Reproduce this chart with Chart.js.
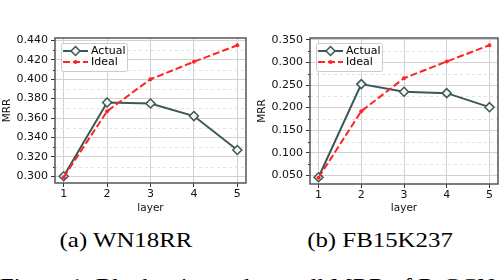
<!DOCTYPE html>
<html lang="en">
<head>
<meta charset="UTF-8">
<title>MRR per layer</title>
<script src="https://cdn.jsdelivr.net/npm/chart.js"></script>
<style>
  body { margin: 0; background: #fff; }
  #wrap { position: relative; width: 504px; height: 280px; overflow: hidden; font-family: "Liberation Serif", serif; }
  .panel { position: absolute; top: 0; }
  .cap { position: absolute; top: 229px; font-size: 22px; line-height: 22px; white-space: nowrap; transform: translateX(-50%) scaleX(1.13); }
  #fig { position: absolute; left: 0; top: 275px; font-size: 22px; line-height: 22px; white-space: nowrap; transform-origin: 0 0; transform: scaleX(1.12); }
</style>
</head>
<body>
<div id="wrap">
    <canvas class="panel" id="wn" width="252" height="215" style="left:0"></canvas>
    <canvas class="panel" id="fb" width="252" height="215" style="left:252px"></canvas>
    <div class="cap" style="left:126px">(a) WN18RR</div>
    <div class="cap" style="left:380px">(b) FB15K237</div>
    <div id="fig">Figure 1: Block-wise and overall MRR of R-GCN.</div>
</div>
<script>
const layers = [1, 2, 3, 4, 5];
const seriesNames = ['Actual', 'Ideal'];

const wnActual = [0.300, 0.376, 0.375, 0.362, 0.327];
const wnIdeal  = [0.299, 0.367, 0.400, 0.418, 0.435];
const wnTicks  = [0.30, 0.32, 0.34, 0.36, 0.38, 0.40, 0.42, 0.44];
const wnMinor  = [0.31, 0.33, 0.35, 0.37, 0.39, 0.41, 0.43];

const fbActual = [0.046, 0.252, 0.235, 0.232, 0.201];
const fbIdeal  = [0.045, 0.192, 0.265, 0.302, 0.338];
const fbTicks  = [0.05, 0.10, 0.15, 0.20, 0.25, 0.30, 0.35];
const fbMinor  = [0.075, 0.125, 0.175, 0.225, 0.275, 0.325];

const tickFont = { family: 'DejaVu Sans', size: 11 };
const titleFont = { family: 'DejaVu Sans', size: 10.5 };

// dashed minor grid, minor ticks, frame and the legend box
const extras = {
    id: 'extras',
    beforeDatasetsDraw(chart, args, opts) {
        const ctx = chart.ctx, a = chart.chartArea, y = chart.scales.y;
        ctx.save();
        ctx.lineWidth = 1;
        opts.minor.forEach(v => {
            const py = Math.round(y.getPixelForValue(v)) + 0.5;
            ctx.strokeStyle = '#e2e2e2';
            ctx.setLineDash([3, 3]);
            ctx.beginPath(); ctx.moveTo(a.left, py); ctx.lineTo(a.right, py); ctx.stroke();
            ctx.setLineDash([]);
            ctx.strokeStyle = '#333';
            ctx.beginPath(); ctx.moveTo(a.left - 2, py); ctx.lineTo(a.left, py); ctx.stroke();
        });
        ctx.restore();
    },
    afterDatasetsDraw(chart) {
        const ctx = chart.ctx, a = chart.chartArea;
        ctx.save();
        ctx.strokeStyle = '#555';
        ctx.lineWidth = 1.5;
        ctx.strokeRect(a.left, a.top, a.right - a.left, a.bottom - a.top);

        const bx = a.left + 6, by = a.top + 5, bw = 66, bh = 28;
        ctx.fillStyle = 'rgba(255,255,255,0.85)';
        ctx.strokeStyle = '#cccccc';
        ctx.lineWidth = 1;
        ctx.beginPath();
        ctx.roundRect(bx + 0.5, by + 0.5, bw, bh, 2);
        ctx.fill(); ctx.stroke();

        const sets = chart.data.datasets.slice().sort((p, q) => p.legendIndex - q.legendIndex);
        sets.forEach((d, i) => {
            const ly = by + 8 + i * 11;
            ctx.strokeStyle = d.borderColor;
            ctx.lineWidth = d.borderWidth;
            ctx.setLineDash(d.borderDash || []);
            ctx.beginPath(); ctx.moveTo(bx + 2, ly); ctx.lineTo(bx + 27, ly); ctx.stroke();
            ctx.setLineDash([]);
            ctx.fillStyle = d.pointBackgroundColor;
            ctx.strokeStyle = d.pointBorderColor;
            ctx.lineWidth = d.pointBorderWidth;
            Chart.helpers.drawPoint(ctx, { pointStyle: d.pointStyle, radius: d.pointRadius, borderWidth: d.pointBorderWidth }, bx + 14.5, ly);
            ctx.fillStyle = '#000';
            ctx.font = '11px "DejaVu Sans"';
            ctx.textBaseline = 'middle';
            ctx.fillText(d.label, bx + 30, ly + 0.5);
        });
        ctx.restore();
    }
};

function points(vals) {
    return layers.map((x, i) => ({ x: x, y: vals[i] }));
}

function makeChart(id, actual, ideal, yTicks, yMinor, yMin, yMax, yWidth, padRight, xHeight, titlePad) {
    return new Chart(document.getElementById(id), {
        type: 'line',
        data: {
            datasets: [{
                label: seriesNames[0],
                legendIndex: 0,
                order: 1,
                data: points(actual),
                borderColor: '#3b5757',
                borderWidth: 2,
                pointStyle: 'rectRot',
                pointRadius: 4.5,
                pointBorderWidth: 1.5,
                pointBorderColor: '#3b5757',
                pointBackgroundColor: '#f4f4f4',
                tension: 0
            }, {
                label: seriesNames[1],
                legendIndex: 1,
                order: 0,
                data: points(ideal),
                borderColor: '#ff2424',
                borderWidth: 2,
                borderDash: [7, 3],
                pointStyle: 'circle',
                pointRadius: 2,
                pointBorderWidth: 0,
                pointBorderColor: '#ff2424',
                pointBackgroundColor: '#ff2424',
                tension: 0
            }]
        },
        options: {
            responsive: false,
            animation: false,
            layout: { padding: { top: 38, right: padRight, left: 0, bottom: 0 } },
            plugins: {
                legend: { display: false },
                tooltip: { enabled: false },
                extras: { minor: yMinor }
            },
            scales: {
                x: {
                    type: 'linear',
                    min: 0.8,
                    max: 5.2,
                    afterBuildTicks: s => { s.ticks = layers.map(v => ({ value: v })); },
                    afterFit: s => { s.height = xHeight; },
                    ticks: { font: tickFont, color: '#111', padding: 1, callback: v => String(v) },
                    grid: { color: '#d2d2d2', lineWidth: 1, tickLength: 4, tickColor: '#333', tickWidth: 1 },
                    border: { display: false },
                    title: { display: true, text: 'layer', font: titleFont, color: '#111', padding: 0 }
                },
                y: {
                    min: yMin,
                    max: yMax,
                    afterBuildTicks: s => { s.ticks = yTicks.map(v => ({ value: v })); },
                    afterFit: s => { s.width = yWidth; },
                    ticks: { font: tickFont, color: '#111', padding: 3, callback: v => v.toFixed(3) },
                    grid: { color: '#d2d2d2', lineWidth: 1, tickLength: 4, tickColor: '#333', tickWidth: 1 },
                    border: { display: false },
                    title: { display: true, text: 'MRR', font: titleFont, color: '#111', padding: titlePad }
                }
            }
        },
        plugins: [extras]
    });
}

makeChart('wn', wnActual, wnIdeal, wnTicks, wnMinor, 0.293, 0.4425, 55, 4, 32, { top: 1, bottom: 0 });
makeChart('fb', fbActual, fbIdeal, fbTicks, fbMinor, 0.031, 0.354, 58, 2, 31, { top: 4, bottom: 0 });
</script>
</body>
</html>
